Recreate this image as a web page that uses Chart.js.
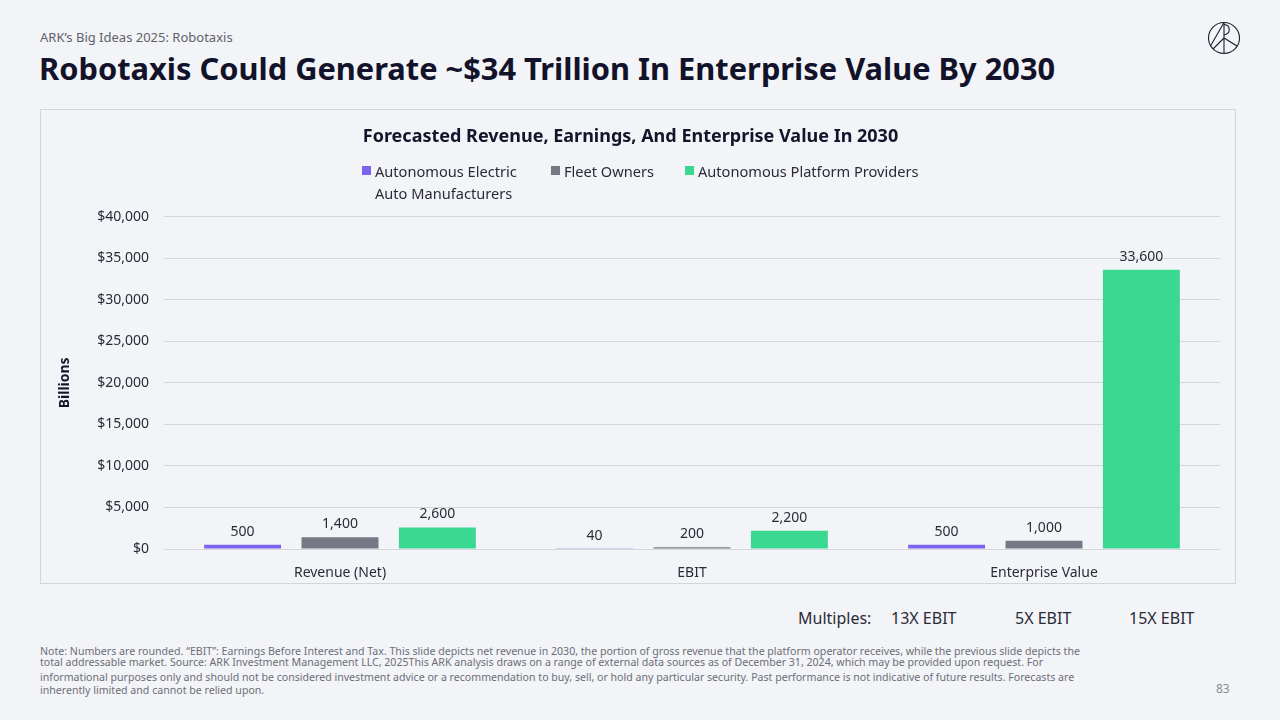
<!DOCTYPE html>
<html>
<head>
<meta charset="utf-8">
<script src="https://cdn.jsdelivr.net/npm/chart.js@4.4.1/dist/chart.umd.min.js"></script>
<style>
  html, body { margin: 0; padding: 0; }
  body {
    width: 1280px; height: 720px; position: relative; overflow: hidden;
    background: #f3f4f7; font-family: 'Noto Sans', sans-serif; color: #14152b;
  }
  .abs { position: absolute; white-space: nowrap; }
  #kicker { left: 40px; top: 28px; font-size: 13px; color: #5e616d; }
  #headline { left: 39px; top: 47px; font-size: 30.8px; font-weight: 700; color: #12132a; }
  #chartBox {
    position: absolute; left: 40px; top: 109px; width: 1194px; height: 473px;
    border: 1px solid #d3d5da;
  }
  #chartBox canvas { position: absolute; left: 0; top: 0; }
  .leg { position: absolute; font-size: 14.6px; color: #2a2b37; line-height: 22px; }
  .leg i { position: absolute; left: 0; top: 6px; width: 9px; height: 9px; }
  .leg span { display: block; padding-left: 13px; }
  .mult { top: 607px; font-size: 16px; color: #2a2b37; }
  .note { left: 40px; font-size: 10.6px; color: #6b6e78; }
  #page { left: 1216px; top: 680px; font-size: 12px; color: #8a8d96; }
</style>
</head>
<body>
<div id="kicker" class="abs">ARK’s Big Ideas 2025: Robotaxis</div>
<div id="headline" class="abs">Robotaxis Could Generate ~$34 Trillion In Enterprise Value By 2030</div>
<svg class="abs" style="left:1207px;top:21px" width="34" height="34" viewBox="0 0 34 34">
  <g fill="none" stroke="#1c1d2c" stroke-width="1.1">
    <circle cx="17" cy="17" r="15.5"/>
    <line x1="17" y1="1.5" x2="17" y2="32.5"/>
    <line x1="17" y1="1.5" x2="3.5" y2="25"/>
    <line x1="17" y1="17" x2="30" y2="25"/>
    <line x1="17" y1="17" x2="6" y2="28"/>
    <path d="M17 3.5 C24 4 24 13 17 14"/>
  </g>
</svg>

<div id="chartBox">
  <canvas id="chart" width="1194" height="473"></canvas>
  <div class="leg" style="left:321px;top:50px"><i style="background:#7b63f0"></i><span>Autonomous Electric</span><span>Auto Manufacturers</span></div>
  <div class="leg" style="left:510px;top:50px"><i style="background:#767985"></i><span>Fleet Owners</span></div>
  <div class="leg" style="left:644px;top:50px"><i style="background:#3ad992"></i><span>Autonomous Platform Providers</span></div>
</div>

<div class="abs mult" style="left:798px">Multiples:</div>
<div class="abs mult" style="left:891px">13X EBIT</div>
<div class="abs mult" style="left:1015px">5X EBIT</div>
<div class="abs mult" style="left:1129px">15X EBIT</div>

<div class="abs note" style="top:644px">Note: Numbers are rounded. “EBIT”: Earnings Before Interest and Tax. This slide depicts net revenue in 2030, the portion of gross revenue that the platform operator receives, while the previous slide depicts the</div>
<div class="abs note" style="top:655px">total addressable market. Source: ARK Investment Management LLC, 2025This ARK analysis draws on a range of external data sources as of December 31, 2024, which may be provided upon request. For</div>
<div class="abs note" style="top:670px">informational purposes only and should not be considered investment advice or a recommendation to buy, sell, or hold any particular security. Past performance is not indicative of future results. Forecasts are</div>
<div class="abs note" style="top:683px">inherently limited and cannot be relied upon.</div>
<div id="page" class="abs">83</div>

<script>
// Forecasted 2030 values, billions of dollars
const categories = ['Revenue (Net)', 'EBIT', 'Enterprise Value'];
const seriesNames = ['Autonomous Electric Auto Manufacturers', 'Fleet Owners', 'Autonomous Platform Providers'];
const autoMakers = [500, 40, 500];
const fleetOwners = [1400, 200, 1000];
const platformProviders = [2600, 2200, 33600];
const seriesColors = ['#7b63f0', '#767985', '#3ad992'];

const FONT = "'Noto Sans', sans-serif";

// draws the value above each bar
const barValueLabels = {
    id: 'barValueLabels',
    afterDatasetsDraw(chart) {
        const ctx = chart.ctx;
        ctx.save();
        ctx.font = '14px ' + FONT;
        ctx.fillStyle = '#2a2b37';
        ctx.textAlign = 'center';
        ctx.textBaseline = 'bottom';
        chart.data.datasets.forEach((ds, i) => {
            chart.getDatasetMeta(i).data.forEach((bar, j) => {
                ctx.fillText(ds.data[j].toLocaleString('en-US'), bar.x, bar.y - 6);
            });
        });
        ctx.restore();
    }
};

new Chart(document.getElementById('chart'), {
    type: 'bar',
    data: {
        labels: categories,
        datasets: [
            { label: seriesNames[0], data: autoMakers, backgroundColor: seriesColors[0] },
            { label: seriesNames[1], data: fleetOwners, backgroundColor: seriesColors[1] },
            { label: seriesNames[2], data: platformProviders, backgroundColor: seriesColors[2] }
        ]
    },
    options: {
        responsive: false,
        animation: false,
        categoryPercentage: 0.83,
        barPercentage: 0.79,
        layout: { padding: { left: 0, right: 15, top: 0, bottom: 0 } },
        plugins: {
            legend: { display: false },
            tooltip: { enabled: false },
            title: {
                display: true,
                text: 'Forecasted Revenue, Earnings, And Enterprise Value In 2030',
                color: '#14152b',
                font: { family: FONT, size: 18, weight: 'bold' },
                padding: { top: 16, bottom: 69 }
            }
        },
        scales: {
            x: {
                grid: { display: false },
                border: { display: false },
                ticks: { color: '#2a2b37', font: { family: FONT, size: 14 }, padding: 8 },
                afterFit(scale) { scale.height = 34; }
            },
            y: {
                min: 0,
                max: 40000,
                grid: { color: '#d5d7dc', drawTicks: false },
                border: { display: false },
                ticks: {
                    stepSize: 5000,
                    color: '#2a2b37',
                    padding: 15,
                    font: { family: FONT, size: 14 },
                    callback: v => '$' + v.toLocaleString('en-US')
                },
                title: {
                    display: true,
                    text: 'Billions',
                    color: '#14152b',
                    font: { family: FONT, size: 14, weight: 'bold' },
                    padding: { top: 16, bottom: 0 }
                },
                afterFit(scale) { scale.width = 123; }
            }
        }
    },
    plugins: [barValueLabels]
});
</script>
</body>
</html>
